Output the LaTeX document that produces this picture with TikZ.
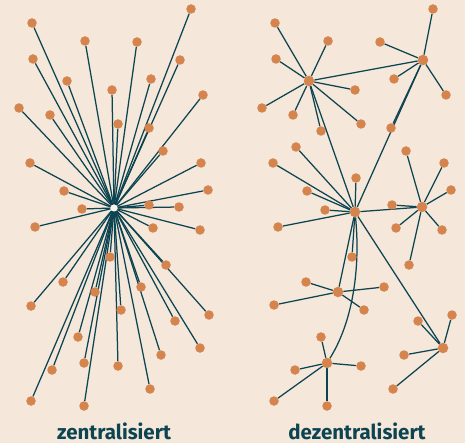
\documentclass[tikz,border=0pt]{standalone}
\usepackage{fontspec}
\setmainfont{Fira Sans}
\usetikzlibrary{backgrounds}
\definecolor{bgcream}{HTML}{F5E7D9}
\definecolor{dotorange}{HTML}{D4844C}
\definecolor{linkteal}{HTML}{0C4452}
\tikzset{
  leaf/.style={circle, fill=dotorange, inner sep=0pt, minimum size=9.5pt},
  hub/.style={circle, fill=dotorange, inner sep=0pt, minimum size=10.5pt},
  link/.style={draw=linkteal, line width=1.25pt},
  labeltext/.style={text=linkteal, inner sep=0pt, anchor=base, font=\fontsize{20.5}{24}\selectfont\bfseries}
}
\begin{document}
\begin{tikzpicture}[x=1pt, y=-1pt]
				\useasboundingbox (0,0) rectangle (465,443);
				\begin{scope}[on background layer]
					\fill[bgcream] (0,0) rectangle (465,443);
				\end{scope}
				
				% zentralisiert
				\node[circle, fill=white!50!bgcream, inner sep=0pt, minimum size=7pt] (zc) at (114,208) {};
				\foreach \x/\y [count=\i] in {32/23, 191/9, 85/41, 137/42, 33/59, 180/60, 67/81, 151/79,
						112/90, 203/95, 19/108, 50/115, 118/124, 149/128, 163/151, 30/163, 201/163,
						64/191, 208/190, 149/205, 179/207, 82/209, 35/227, 153/228, 200/230, 110/257,
						166/265, 63/282, 95/292, 141/287, 31/306, 209/315, 121/310, 175/321, 78/337,
						200/348, 161/355, 52/370, 84/363, 118/366, 150/389, 31/401, 84/406}{
					\node[leaf] (z\i) at (\x,\y) {};
					\begin{scope}[on background layer]
						\draw[link] (zc) -- (z\i);
					\end{scope}
				}
				
				% dezentralisiert
				\node[hub] (hA) at (309,81) {};
				\node[hub] (hB) at (423,60) {};
				\node[hub] (hC) at (355,212) {};
				\node[hub] (hD) at (422,207) {};
				\node[hub] (hE) at (338,292) {};
				\node[hub] (hF) at (443,348) {};
				\node[hub] (hG) at (327,363) {};
				\foreach \h/\x/\y [count=\i] in {A/275/23, A/328/41, A/276/59, A/262/108, A/293/115,
						A/355/90, A/361/124, A/321/131, B/433/9, B/380/42, B/394/79, B/446/95, B/391/128,
						C/296/147, C/273/163, C/307/191, C/325/210, C/356/178, C/278/227, C/352/257,
						D/406/151, D/444/163, D/451/190, D/392/205, D/396/228, D/442/230, D/409/265,
						E/306/282, E/384/287, E/274/305, E/364/310, F/452/315, F/418/321, F/404/355,
						F/393/389, G/321/337, G/295/370, G/361/366, G/274/401, G/327/406}{
					\node[leaf] (d\i) at (\x,\y) {};
					\begin{scope}[on background layer]
						\draw[link] (h\h) -- (d\i);
					\end{scope}
				}
				\begin{scope}[on background layer]
					\draw[link] (hA) -- (hB);
					\draw[link] (hA) -- (hC);
					\draw[link] (hB) -- (hC);
					\draw[link] (hC) -- (hD);
					\draw[link] (hC) -- (hE);
					\draw[link] (hC) -- (hF);
					\draw[link] (hC) .. controls +(5,50) and +(28,-45) .. (hG);
				\end{scope}
				
				\node[labeltext] (capL) at (114,439) {zentralisiert};
				\node[labeltext] (capR) at (357,439) {dezentralisiert};
			\end{tikzpicture}
\end{document}
